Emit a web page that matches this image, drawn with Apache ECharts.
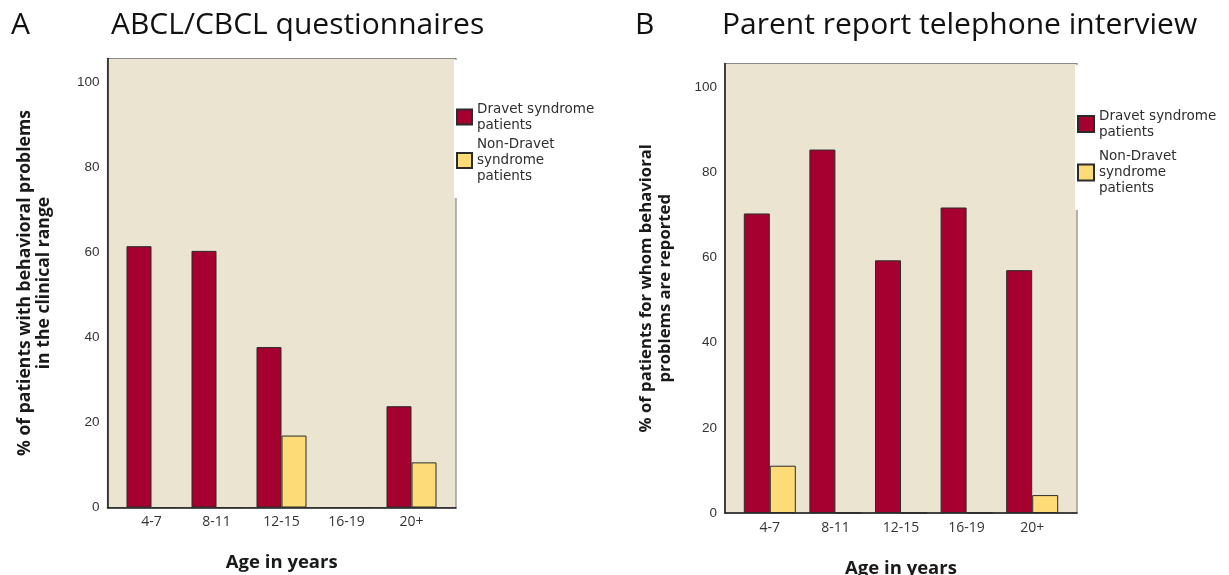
<!DOCTYPE html>
<html>
<head>
<meta charset="utf-8">
<script src="https://cdn.jsdelivr.net/npm/echarts@6/dist/echarts.min.js"></script>
<style>
  html, body { margin: 0; padding: 0; background: #fff; }
  #chart { width: 1229px; height: 575px; }
</style>
</head>
<body>
<div id="chart"></div>
<script>
// Age groups shared by both panels
const ageGroups = ['4-7', '8-11', '12-15', '16-19', '20+'];

// Panel A: ABCL/CBCL questionnaires (% in the clinical range)
const abclDravet = [61.4, 60.3, 37.7, 0, 23.8];
const abclNonDravet = [0, 0, 16.9, 0, 10.6];

// Panel B: parent report telephone interview (% with reported problems)
const phoneDravet = [70.3, 85.3, 59.3, 71.7, 57.0];
const phoneNonDravet = [11.1, 0, 0, 0, 4.2];

// Y-axis ticks
const yTicks = [0, 20, 40, 60, 80, 100];
const yMax = 105.5;

const DRAVET = 'Dravet syndrome patients';
const NON_DRAVET = 'Non-Dravet syndrome patients';
const legendLines = {};
legendLines[DRAVET] = 'Dravet syndrome\npatients';
legendLines[NON_DRAVET] = 'Non-Dravet\nsyndrome\npatients';

const colDravet = '#A5002F';
const colNon = '#FDDC77';
const plotBg = '#EAE4D0';
const titleFont = '"Open Sans", "Noto Sans", sans-serif';

function frameParts(frame, data, idx, yName, yNameSize, yNameGap, xNameGap) {
  // idx*2 = frame grid (background, y ticks, names), idx*2+1 = bars grid
  const g0 = idx * 2, g1 = idx * 2 + 1;
  const fixed = { containLabel: false, outerBoundsMode: 'none' };
  return {
    grids: [
      Object.assign({ show: true, backgroundColor: plotBg, borderColor: '#8a8a8a', borderWidth: 1.2 }, fixed, frame),
      Object.assign({ show: false }, fixed, data)
    ],
    xAxes: [
      {
        gridIndex: g0, type: 'category', data: ageGroups,
        axisLine: { show: true, lineStyle: { color: '#1a1a1a', width: 1.5 } },
        axisTick: { show: false }, axisLabel: { show: false }, splitLine: { show: false },
        name: 'Age in years', nameLocation: 'middle', nameGap: xNameGap,
        nameTextStyle: { fontFamily: titleFont, fontWeight: 'bold', fontSize: 18.5, color: '#1a1a1a' }
      },
      {
        gridIndex: g1, type: 'category', data: ageGroups,
        axisLine: { show: false }, axisTick: { show: false }, splitLine: { show: false },
        axisLabel: { margin: 8, fontFamily: titleFont, fontSize: 14, color: '#333' }
      }
    ],
    yAxes: [
      {
        gridIndex: g0, type: 'value', min: 0, max: yMax, interval: 20,
        axisLine: { show: true, lineStyle: { color: '#1a1a1a', width: 1.5 } },
        axisTick: { show: false }, splitLine: { show: false },
        axisLabel: {
          margin: 8, fontFamily: '"Liberation Sans", Arial, sans-serif', fontSize: 13.5, color: '#333',
          formatter: v => (yTicks.indexOf(v) >= 0 ? String(v) : '')
        },
        name: yName, nameLocation: 'middle', nameRotate: 90, nameGap: yNameGap,
        nameTextStyle: { fontFamily: titleFont, fontWeight: 'bold', fontSize: yNameSize, lineHeight: 19, color: '#1a1a1a', align: 'center' }
      },
      {
        gridIndex: g1, type: 'value', min: 0, max: yMax, show: false
      }
    ]
  };
}

const A = frameParts(
  { left: 107.5, top: 58.5, width: 348.5, height: 449 },
  { left: 119, top: 58.5, width: 325, height: 449 },
  0, '% of patients with behavioral problems\nin the clinical range', 17.6, 54, 46
);
const B = frameParts(
  { left: 725, top: 63.5, width: 352, height: 449.5 },
  { left: 737, top: 63.5, width: 328, height: 449.5 },
  1, '% of patients for whom behavioral\nproblems are reported', 16.7, 50, 46
);

function barSeries(name, values, color, xi, yi, width) {
  return {
    name: name, type: 'bar', data: values,
    xAxisIndex: xi, yAxisIndex: yi,
    barWidth: width, barGap: '0%',
    itemStyle: { color: color, borderColor: '#2b2b2b', borderWidth: 1 },
    emphasis: { disabled: true }
  };
}

const legendText = {
  fontFamily: '"DejaVu Sans", Verdana, sans-serif', fontSize: 13.5, lineHeight: 16, color: '#2e2e2e'
};
function legendItem(name, left, top, size, extra) {
  return Object.assign({
    data: [name], orient: 'vertical', left: left, top: top, padding: 0,
    icon: 'rect', itemWidth: size, itemHeight: size, itemGap: 0, selectedMode: false,
    formatter: n => legendLines[n], textStyle: legendText
  }, extra || {});
}

const titleStyle = { fontFamily: titleFont, fontWeight: 'normal', fontSize: 30, color: '#111' };

const option = {
  animation: false,
  title: [
    { text: 'A', left: 11, top: 10, padding: 0, textStyle: titleStyle },
    { text: 'ABCL/CBCL questionnaires', left: 111, top: 10, padding: 0, textStyle: titleStyle },
    { text: 'B', left: 635, top: 10, padding: 0, textStyle: titleStyle },
    { text: 'Parent report telephone interview', left: 722, top: 10, padding: 0, textStyle: titleStyle }
  ],
  legend: [
    legendItem(DRAVET, 454, 60, 15, { padding: [41, 30, 65, 2], backgroundColor: '#fff' }),
    legendItem(NON_DRAVET, 456, 136.5, 15),
    legendItem(DRAVET, 1075, 65, 16, { padding: [43, 10, 70, 2], backgroundColor: '#fff' }),
    legendItem(NON_DRAVET, 1077, 148.5, 16)
  ],
  grid: A.grids.concat(B.grids),
  xAxis: A.xAxes.concat(B.xAxes),
  yAxis: A.yAxes.concat(B.yAxes),
  series: [
    barSeries(DRAVET, abclDravet, colDravet, 1, 1, 25),
    barSeries(NON_DRAVET, abclNonDravet, colNon, 1, 1, 25),
    barSeries(DRAVET, phoneDravet, colDravet, 3, 3, 26),
    barSeries(NON_DRAVET, phoneNonDravet, colNon, 3, 3, 26)
  ]
};

const chart = echarts.init(document.getElementById('chart'), null, { renderer: 'canvas' });
chart.setOption(option);
</script>
</body>
</html>
